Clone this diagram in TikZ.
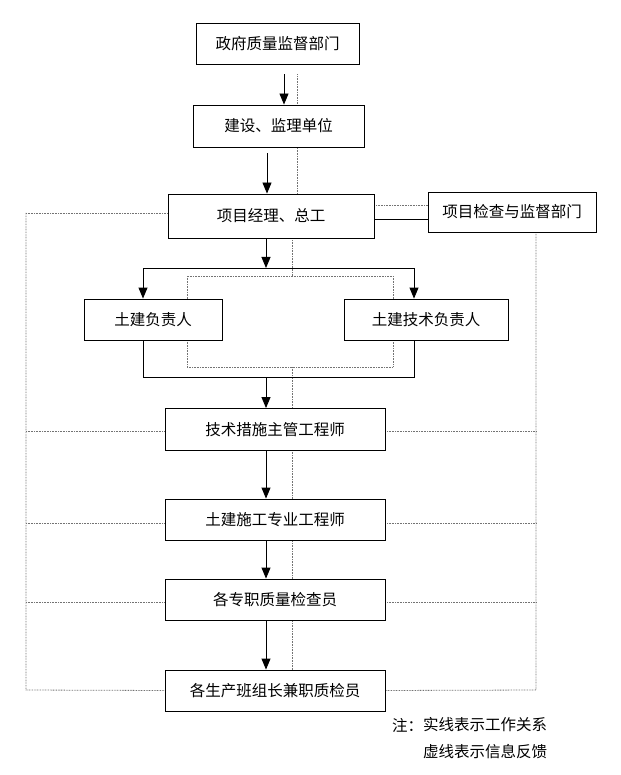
\documentclass[tikz,border=0pt]{standalone}
\usepackage{fontspec}
\newfontfamily\cjk{Noto Sans CJK SC}
\usetikzlibrary{arrows.meta,calc,backgrounds}
\begin{document}
\begin{tikzpicture}[x=1pt,y=-1pt,
 box/.style={draw,line width=0.9pt,fill=white,inner sep=0pt,font=\cjk\fontsize{15.5}{18}\selectfont},
 arr/.style={line width=0.9pt,-{Triangle[width=9pt,length=11pt]}},
 sol/.style={line width=0.9pt},
 fb/.style={black!55,line width=0.8pt,dash pattern=on 0.8pt off 0.8pt},
 note/.style={font=\cjk\fontsize{15.5}{18}\selectfont,inner sep=0pt,anchor=west}]
\useasboundingbox (0,0) rectangle (620,775);

% boxes
\node[box,minimum width=163pt,minimum height=41pt] (gov) at (277.5,43.5) {政府质量监督部门};
\node[box,minimum width=171pt,minimum height=42pt] (build) at (278.5,126) {建设、监理单位};
\node[box,minimum width=206pt,minimum height=44pt] (pm) at (271,216) {项目经理、总工};
\node[box,minimum width=168pt,minimum height=40pt] (insp) at (512,212) {项目检查与监督部门};
\node[box,minimum width=138pt,minimum height=41pt] (civ) at (153,319.5) {土建负责人};
\node[box,minimum width=164pt,minimum height=41pt] (civtech) at (426,319.5) {土建技术负责人};
\node[box,minimum width=220pt,minimum height=42pt] (tech) at (275,429.5) {技术措施主管工程师};
\node[box,minimum width=220pt,minimum height=41pt] (eng) at (275,519.5) {土建施工专业工程师};
\node[box,minimum width=220pt,minimum height=41pt] (qc) at (275,599.5) {各专职质量检查员};
\node[box,minimum width=220pt,minimum height=41pt] (team) at (275,690.5) {各生产班组长兼职质检员};

% notes
\node[note] (n0) at (392,725) {注：};
\node[note] (n1) at (423,725) {实线表示工作关系};
\node[note] (n2) at (423,752) {虚线表示信息反馈};

% helper coordinates
\coordinate (a1) at ($(gov.south)+(6.5,10)$);
\coordinate (a2) at ($(build.south)+(-11.5,6)$);
\coordinate (d1) at ($(gov.south)+(19.5,10)$);
\coordinate (sp) at (266,268);
\coordinate (sL) at (143,268);
\coordinate (sR) at (414,268);
\coordinate (jL) at (143,377);
\coordinate (jR) at (414,377);
\coordinate (jM) at (266,377);
\coordinate (mv) at (292,276);
\coordinate (mv2) at (292,367);
\coordinate (rA) at (187,276);
\coordinate (rB) at (393,367);
\coordinate (LT) at (26,213);
\coordinate (LB) at (26,690);
\coordinate (RB) at (536,690);

% feedback (dotted) lines, behind boxes
\begin{scope}[on background layer]
\draw[fb] (d1) -- (d1 |- pm.north);
\draw[fb] (pm.south -| mv) -- (mv);
\draw[fb] (mv2) -- (mv2 |- team.north);
\draw[fb] (rA) rectangle (rB);
\draw[fb] ($(pm.east)+(0,-11)$) -- ($(pm.east -| insp.west)+(0,-11)$);
\draw[fb] (LT) -- ($(pm.west)+(0,-3)$);
\draw[fb] (LT) -- (LB) -- (team.west);
\draw[fb] (0,431 -| LT) -- ($(tech.west)+(0,1.5)$);
\draw[fb] (0,523 -| LT) -- ($(eng.west)+(0,3.5)$);
\draw[fb] (0,602 -| LT) -- ($(qc.west)+(0,2.5)$);
\draw[fb] (insp.south -| RB) -- (RB) -- (team.east);
\draw[fb] ($(tech.east)+(0,1.5)$) -- (0,431 -| RB);
\draw[fb] ($(eng.east)+(0,3.5)$) -- (0,523 -| RB);
\draw[fb] ($(qc.east)+(0,2.5)$) -- (0,602 -| RB);
\end{scope}

% work relations (solid)
\draw[arr] (a1) -- (a1 |- build.north);
\draw[arr] (a2) -- (a2 |- pm.north);
\draw[sol] ($(pm.east)+(0,3)$) -- ($(pm.east -| insp.west)+(0,3)$);
\draw[arr] (pm.south -| sp) -- (sp);
\draw[sol] (sL) -- (sR);
\draw[arr] (sL) -- (sL |- civ.north);
\draw[arr] (sR) -- (sR |- civtech.north);
\draw[sol] (civ.south -| jL) -- (jL) -- (jR) -- (civtech.south -| jR);
\draw[arr] (jM) -- (jM |- tech.north);
\draw[arr] (tech.south -| jM) -- (eng.north -| jM);
\draw[arr] (eng.south -| jM) -- (qc.north -| jM);
\draw[arr] (qc.south -| jM) -- (team.north -| jM);
\end{tikzpicture}
\end{document}
